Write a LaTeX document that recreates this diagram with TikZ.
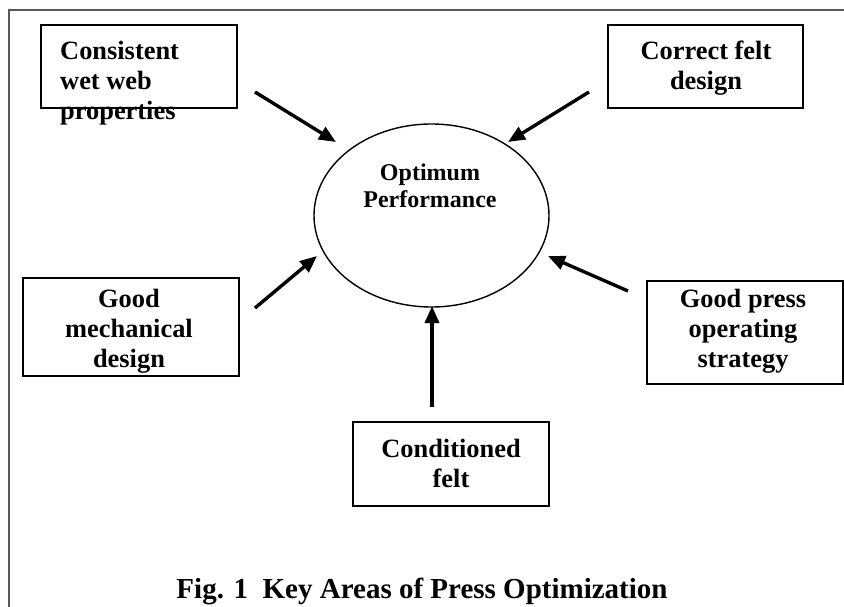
\documentclass[tikz,border=0pt]{standalone}
\usepackage{fontspec}
\setmainfont{Liberation Serif}
\usetikzlibrary{shapes.geometric,arrows.meta}
\tikzset{
  boxshape/.style={draw=black, line width=1.5pt, rectangle, inner sep=0pt},
  boxtext/.style={inner sep=0pt, font=\fontsize{26.4}{30}\selectfont\bfseries},
  arr/.style={line width=3.4pt, -{Triangle[length=17pt,width=14pt]}},
  frameline/.style={draw=black!65, line width=2pt}
}
\begin{document}
\begin{tikzpicture}[x=1pt,y=-1pt]
\useasboundingbox (0,0) rectangle (844,607);
% frame
\draw[frameline] (9,607) -- (9,10) -- (845,10);
% boxes
\node[boxshape, minimum width=196pt, minimum height=83pt] (b1) at (139,66.5) {};
\node[boxshape, minimum width=195pt, minimum height=83pt] (b2) at (705.5,66.5) {};
\node[boxshape, minimum width=216pt, minimum height=98pt] (b3) at (131,327) {};
\node[boxshape, minimum width=196pt, minimum height=103pt] (b4) at (745,332.5) {};
\node[boxshape, minimum width=196pt, minimum height=84pt] (b5) at (451,464) {};
% box texts
\node[boxtext, anchor=base west] (t1) at (60,60) {\parbox[t]{190pt}{\raggedright Consistent\\wet web\\properties}};
\node[boxtext, anchor=base] (t2) at (706,60) {\parbox[t]{190pt}{\centering Correct felt\\design}};
\node[boxtext, anchor=base] (t3) at (129,307) {\parbox[t]{210pt}{\centering Good\\mechanical\\design}};
\node[boxtext, anchor=base] (t4) at (743,307) {\parbox[t]{190pt}{\centering Good press\\operating\\strategy}};
\node[boxtext, anchor=base] (t5) at (451,457) {\parbox[t]{190pt}{\centering Conditioned\\felt}};
% ellipse
\node[draw=black, line width=1.4pt, ellipse, minimum width=235pt, minimum height=183pt, inner sep=0pt] (opt) at (431.5,215.5) {};
\node[inner sep=0pt, anchor=base, font=\fontsize{24}{27}\selectfont\bfseries] (optt) at (430,181) {\parbox[t]{200pt}{\centering Optimum\\Performance}};
% caption
\node[inner sep=0pt, anchor=base, font=\fontsize{29}{34}\selectfont\bfseries] (cap) at (422,598) {Fig. 1\ \ Key Areas of Press Optimization};
% arrow ends
\coordinate (s1) at (255,92);  \coordinate (e1) at (336,142);
\coordinate (s2) at (589,92);  \coordinate (e2) at (508,142);
\coordinate (s3) at (255,308); \coordinate (e3) at (317,256);
\coordinate (s4) at (628,291); \coordinate (e4) at (548,256);
\coordinate (s5) at (432,407); \coordinate (e5) at (432,306);
\draw[arr] (s1) -- (e1);
\draw[arr] (s2) -- (e2);
\draw[arr] (s3) -- (e3);
\draw[arr] (s4) -- (e4);
\draw[arr] (s5) -- (e5);
\end{tikzpicture}
\end{document}
